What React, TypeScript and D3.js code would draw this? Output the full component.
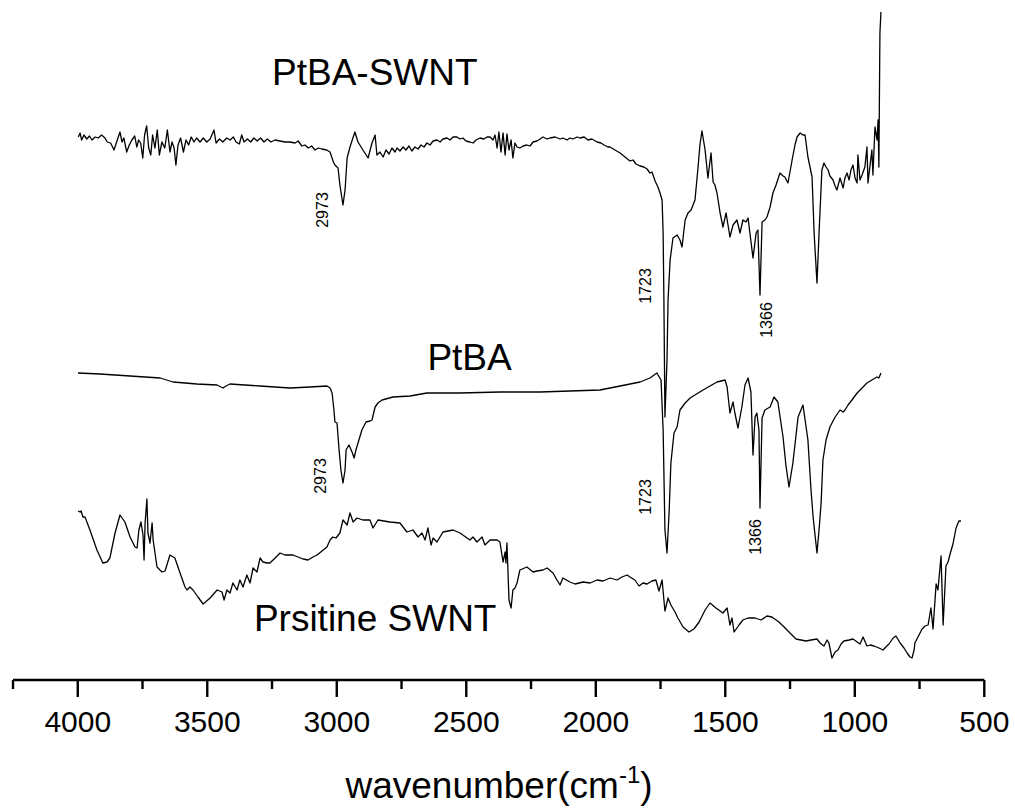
import React from "react";
import * as d3 from "d3";

// FTIR spectra: [wavenumber (cm^-1), intensity (a.u., offset)]
const ptbaSwnt: [number, number][] = [
  [3998,54.3],[3991,54.7],[3985,54.0],[3976,54.5],[3965,54.1],[3955,54.4],[3945,54.0],[3933,54.3],[3921,54.2],[3908,54.5],
  [3895,54.2],[3886,53.8],[3873,53.7],[3860,53.0],[3850,53.8],[3837,54.8],[3829,53.8],[3822,54.2],[3811,52.8],[3801,53.5],
  [3791,54.0],[3780,54.4],[3772,53.3],[3765,54.0],[3757,53.7],[3749,52.2],[3742,54.5],[3734,55.4],[3726,53.2],[3718,52.5],
  [3711,54.5],[3702,53.2],[3693,55.0],[3685,52.5],[3675,53.8],[3664,53.2],[3654,55.0],[3644,52.8],[3636,53.8],[3628,53.2],
  [3621,51.5],[3613,53.5],[3603,54.2],[3592,52.8],[3582,54.0],[3572,53.5],[3562,54.3],[3551,53.8],[3541,54.2],[3528,53.8],
  [3515,54.2],[3502,53.8],[3489,54.1],[3474,55.0],[3466,53.7],[3453,54.1],[3440,53.8],[3425,54.2],[3412,54.0],[3399,54.3],
  [3389,53.8],[3376,53.6],[3367,54.5],[3358,53.8],[3345,54.1],[3332,53.8],[3320,54.2],[3307,53.9],[3294,54.2],[3281,53.8],
  [3268,54.1],[3254,53.8],[3238,54.0],[3219,53.9],[3200,53.8],[3181,53.8],[3161,53.7],[3149,53.9],[3135,53.4],[3123,53.5],
  [3110,53.2],[3097,53.4],[3084,53.0],[3071,53.2],[3058,53.1],[3039,53.0],[3026,52.8],[3013,51.8],[3007,51.5],[2995,51.2],
  [2988,49.5],[2976,47.5],[2968,49.0],[2960,52.2],[2949,53.3],[2930,54.8],[2918,53.8],[2899,53.0],[2879,52.2],[2864,53.7],
  [2852,54.5],[2845,52.5],[2833,52.8],[2821,52.3],[2810,53.0],[2798,52.6],[2787,53.2],[2775,52.8],[2767,53.2],[2756,52.9],
  [2744,53.3],[2733,53.0],[2721,53.4],[2710,52.9],[2698,53.3],[2686,53.1],[2675,53.5],[2663,53.3],[2652,53.7],[2640,53.5],
  [2628,53.9],[2613,54.0],[2601,53.8],[2590,54.1],[2574,54.2],[2563,54.0],[2551,54.3],[2536,54.3],[2524,54.1],[2513,54.2],
  [2501,53.9],[2486,53.8],[2474,53.7],[2462,54.0],[2447,54.2],[2432,54.1],[2420,54.3],[2408,54.3],[2397,54.0],[2389,54.5],
  [2381,53.2],[2374,54.8],[2366,52.8],[2358,54.7],[2350,52.5],[2343,54.6],[2335,53.0],[2327,54.0],[2320,52.2],[2312,53.7],
  [2304,53.3],[2293,53.2],[2281,53.4],[2266,53.5],[2254,53.4],[2242,53.8],[2227,53.9],[2215,54.1],[2204,54.3],[2188,54.1],
  [2177,54.2],[2157,54.3],[2138,54.1],[2127,54.2],[2111,54.0],[2100,54.2],[2088,54.1],[2072,54.3],[2061,54.2],[2045,54.3],
  [2030,54.0],[2015,54.1],[1995,53.8],[1980,53.7],[1968,53.5],[1953,53.3],[1945,53.3],[1926,53.0],[1906,52.7],[1887,52.3],
  [1868,51.9],[1856,52.0],[1845,51.6],[1829,51.4],[1814,51.3],[1802,51.1],[1791,50.7],[1783,50.8],[1771,49.9],[1760,49.3],
  [1752,48.7],[1744,48.0],[1740,44.7],[1737,38.0],[1733,26.3],[1725,32.0],[1721,38.0],[1713,42.0],[1702,44.2],[1686,44.5],
  [1675,44.0],[1667,43.3],[1655,46.0],[1644,46.7],[1632,47.0],[1617,48.0],[1605,51.3],[1598,53.5],[1590,54.9],[1578,53.0],
  [1567,50.2],[1555,52.7],[1547,49.8],[1540,49.5],[1532,48.7],[1520,46.7],[1509,45.3],[1497,46.7],[1482,44.3],[1470,45.5],
  [1455,46.0],[1443,44.7],[1432,46.0],[1420,45.8],[1412,46.2],[1405,44.7],[1393,42.2],[1381,44.7],[1374,45.0],[1366,38.5],
  [1358,45.8],[1347,46.0],[1339,46.3],[1327,47.3],[1316,48.7],[1304,49.5],[1289,50.7],[1277,50.4],[1270,50.3],[1258,49.7],
  [1242,52.0],[1231,53.5],[1223,54.3],[1211,54.7],[1200,54.5],[1192,54.5],[1181,52.3],[1165,50.3],[1157,44.7],[1146,39.7],
  [1138,44.7],[1127,51.0],[1119,51.7],[1111,51.3],[1103,51.0],[1096,50.4],[1084,50.0],[1076,49.4],[1069,49.0],[1057,50.2],
  [1045,49.2],[1038,50.2],[1030,50.7],[1022,50.0],[1015,51.0],[1007,51.5],[999,50.2],[991,49.7],[988,52.5],[980,50.0],
  [972,50.5],[961,51.3],[953,53.3],[949,49.7],[941,51.5],[934,53.0],[930,50.5],[922,55.3],[914,54.0],[910,56.0],
  [907,51.3],[903,64.7],[899,66.8],
];

const ptba: [number, number][] = [
  [3999,30.7],[3914,30.6],[3798,30.4],[3682,30.2],[3632,29.8],[3540,29.6],[3462,29.5],[3447,29.3],[3439,29.2],[3428,29.4],
  [3412,29.6],[3296,29.4],[3181,29.2],[3103,29.3],[3038,29.4],[3026,29.2],[3018,28.7],[3011,27.0],[3007,25.8],[2999,25.7],
  [2991,23.0],[2984,21.0],[2976,19.7],[2968,21.0],[2964,23.0],[2953,23.5],[2941,22.8],[2933,22.2],[2926,23.0],[2918,23.7],
  [2903,25.0],[2887,25.8],[2872,25.9],[2864,26.0],[2852,27.3],[2841,27.7],[2825,28.0],[2783,28.3],[2717,28.4],[2652,28.7],
  [2524,28.7],[2370,28.8],[2215,28.8],[2100,28.9],[1984,29.0],[1906,29.4],[1829,29.8],[1791,30.2],[1764,30.7],[1748,30.0],
  [1740,25.0],[1733,15.0],[1725,12.7],[1717,16.7],[1710,21.7],[1698,24.7],[1686,25.3],[1675,27.0],[1655,27.7],[1636,28.2],
  [1586,29.0],[1532,29.8],[1501,30.0],[1493,29.3],[1482,26.7],[1470,27.8],[1463,26.7],[1451,25.2],[1436,27.3],[1424,29.5],
  [1412,30.2],[1401,28.8],[1393,22.5],[1385,26.3],[1378,26.7],[1370,25.0],[1366,17.2],[1358,26.2],[1347,27.0],[1327,27.3],
  [1312,28.3],[1297,27.8],[1277,24.3],[1266,21.5],[1254,19.3],[1239,21.7],[1219,26.3],[1200,27.5],[1181,24.0],[1169,19.0],
  [1161,16.3],[1146,12.7],[1138,15.0],[1130,17.7],[1123,22.0],[1111,24.0],[1096,25.3],[1076,26.3],[1057,27.0],[1045,26.8],
  [1038,27.0],[1026,27.5],[1011,28.0],[991,28.7],[972,29.2],[953,29.7],[934,30.0],[914,30.3],[907,30.2],[899,30.7],
];

const pristine: [number, number][] = [
  [3999,16.9],[3991,16.8],[3987,16.9],[3980,16.3],[3972,16.3],[3953,15.0],[3926,13.0],[3903,11.7],[3887,11.8],[3876,12.2],
  [3856,14.7],[3837,16.5],[3818,15.8],[3798,14.3],[3779,13.3],[3771,13.2],[3764,15.0],[3756,15.8],[3748,14.5],[3744,12.0],
  [3740,15.7],[3733,18.1],[3729,14.7],[3721,13.7],[3713,15.7],[3709,14.0],[3694,11.3],[3675,10.8],[3663,10.9],[3644,12.5],
  [3625,12.2],[3605,10.7],[3586,9.3],[3578,9.0],[3567,9.3],[3555,9.0],[3536,8.3],[3516,7.6],[3489,8.2],[3462,9.0],
  [3443,8.8],[3435,8.0],[3424,9.0],[3412,8.7],[3401,9.7],[3385,9.0],[3374,10.0],[3362,9.3],[3347,10.5],[3335,9.7],
  [3323,11.2],[3308,10.8],[3296,12.2],[3285,11.8],[3269,11.7],[3258,11.7],[3238,12.2],[3219,12.7],[3200,12.5],[3188,12.5],
  [3169,12.5],[3150,12.3],[3130,12.1],[3111,12.0],[3092,12.3],[3076,12.5],[3057,12.9],[3038,13.3],[3026,14.0],[3015,14.3],
  [3003,14.2],[2988,14.7],[2976,16.0],[2960,15.5],[2949,16.7],[2937,15.8],[2922,16.2],[2899,16.0],[2872,16.0],[2860,15.2],
  [2841,16.0],[2818,15.9],[2795,15.8],[2756,15.7],[2729,14.8],[2706,15.0],[2686,14.3],[2671,14.7],[2659,14.0],[2648,15.2],
  [2636,13.5],[2628,14.2],[2613,13.8],[2590,14.8],[2551,15.0],[2524,14.7],[2497,14.2],[2486,14.0],[2474,14.3],[2459,13.8],
  [2439,14.3],[2428,13.5],[2408,14.0],[2381,14.0],[2370,13.8],[2358,11.8],[2350,12.8],[2347,11.7],[2343,13.7],[2335,8.0],
  [2327,7.2],[2320,9.0],[2312,9.2],[2304,9.7],[2293,11.0],[2266,11.3],[2242,10.8],[2227,10.9],[2204,11.0],[2188,11.2],
  [2165,10.7],[2150,10.0],[2138,9.5],[2127,10.2],[2100,9.8],[2080,9.6],[2049,9.8],[2022,9.7],[1995,10.0],[1972,9.9],
  [1945,10.2],[1918,10.0],[1899,10.3],[1879,10.5],[1868,10.3],[1849,10.0],[1833,9.4],[1818,9.7],[1802,9.6],[1783,9.9],
  [1768,10.0],[1756,8.9],[1744,10.0],[1733,6.9],[1721,8.2],[1710,7.5],[1694,6.8],[1683,6.2],[1663,5.3],[1640,4.8],
  [1621,5.1],[1601,5.8],[1578,7.0],[1559,7.7],[1536,7.2],[1509,6.7],[1493,7.2],[1482,5.5],[1474,6.2],[1466,4.8],
  [1447,5.5],[1432,6.0],[1412,6.2],[1385,6.2],[1362,6.0],[1339,6.4],[1320,6.3],[1293,5.8],[1273,5.3],[1254,4.8],
  [1227,4.1],[1208,4.0],[1188,3.9],[1169,4.0],[1146,4.1],[1134,3.7],[1119,3.4],[1107,4.0],[1100,3.7],[1088,2.2],
  [1076,2.8],[1065,3.0],[1053,3.6],[1042,3.9],[1022,4.0],[1007,4.1],[991,3.8],[980,3.6],[968,4.3],[953,3.4],
  [941,3.5],[926,3.4],[907,3.2],[891,3.0],[880,3.3],[868,3.6],[852,4.2],[841,4.4],[825,3.7],[810,3.2],
  [798,2.7],[787,2.3],[779,2.2],[771,3.0],[768,3.7],[756,4.3],[740,5.1],[729,5.4],[717,5.5],[706,7.2],
  [698,5.1],[686,9.6],[679,9.0],[667,12.4],[659,5.5],[648,11.4],[640,11.8],[632,12.6],[621,13.6],[609,15.2],
  [598,15.9],[590,15.9],
];

const seriesNames = ["PtBA-SWNT", "PtBA", "Prsitine SWNT"];
const majorTicks = [4000, 3500, 3000, 2500, 2000, 1500, 1000, 500];
const minorTicks = [4250, 3750, 3250, 2750, 2250, 1750, 1250, 750];
const xDomain: [number, number] = [4250, 500];
const yDomain: [number, number] = [0, 68];

// peak annotations: [wavenumber label, label anchor wavenumber, label intensity]
const peakLabels: [string, number, number][] = [
  ["2973", 3056, 47.0],
  ["1723", 1811, 39.4],
  ["1366", 1343, 36.0],
  ["2973", 3064, 20.4],
  ["1723", 1808, 18.3],
  ["1366", 1385, 14.3],
];
// series name positions: [wavenumber at text start, intensity at baseline]
const seriesLabelPos: [number, number][] = [
  [3250, 59.5],
  [2650, 31.0],
  [3320, 4.9],
];

const FONT = "'Liberation Sans', Arial, Helvetica, sans-serif";

export default function App() {
  const x = d3.scaleLinear().domain(xDomain).range([13, 984.3]);
  const y = d3.scaleLinear().domain(yDomain).range([680, 0]);
  const line = d3
    .line<[number, number]>()
    .x((d) => x(d[0]))
    .y((d) => y(d[1]));
  const series = [ptbaSwnt, ptba, pristine];
  const axisY = y(0);

  return (
    <svg
      width={1015}
      height={810}
      style={{ position: "absolute", left: 0, top: 0, background: "#fff" }}
      fontFamily={FONT}
    >
      <rect x={0} y={0} width={1015} height={810} fill="#fff" />
      {series.map((s, i) => (
        <path
          key={i}
          d={line(s) || ""}
          fill="none"
          stroke="#000"
          strokeWidth={1.3}
          strokeLinejoin="round"
        />
      ))}
      {seriesNames.map((n, i) => (
        <text
          key={n}
          x={x(seriesLabelPos[i][0])}
          y={y(seriesLabelPos[i][1])}
          fontSize={37}
          fill="#000"
        >
          {n}
        </text>
      ))}
      {peakLabels.map(([t, wn, v], i) => (
        <text
          key={i}
          transform={`translate(${x(wn)},${y(v)}) rotate(-90)`}
          x={0}
          y={5.8}
          fontSize={16}
          textAnchor="middle"
          fill="#000"
        >
          {t}
        </text>
      ))}
      {/* x axis */}
      <line
        x1={x(xDomain[0])}
        x2={x(xDomain[1])}
        y1={axisY}
        y2={axisY}
        stroke="#000"
        strokeWidth={2.6}
      />
      {majorTicks.map((t) => (
        <g key={t}>
          <line x1={x(t)} x2={x(t)} y1={axisY} y2={axisY + 17} stroke="#000" strokeWidth={2.4} />
          <text x={x(t)} y={732} fontSize={30} textAnchor="middle" fill="#000">
            {t}
          </text>
        </g>
      ))}
      {minorTicks.map((t) => (
        <line key={t} x1={x(t)} x2={x(t)} y1={axisY} y2={axisY + 9} stroke="#000" strokeWidth={2.4} />
      ))}
      <text x={499} y={798} fontSize={37} textAnchor="middle" fill="#000">
        <tspan>wavenumber(cm</tspan>
        <tspan dy={-15} fontSize={24}>-1</tspan>
        <tspan dy={15}>)</tspan>
      </text>
    </svg>
  );
}
